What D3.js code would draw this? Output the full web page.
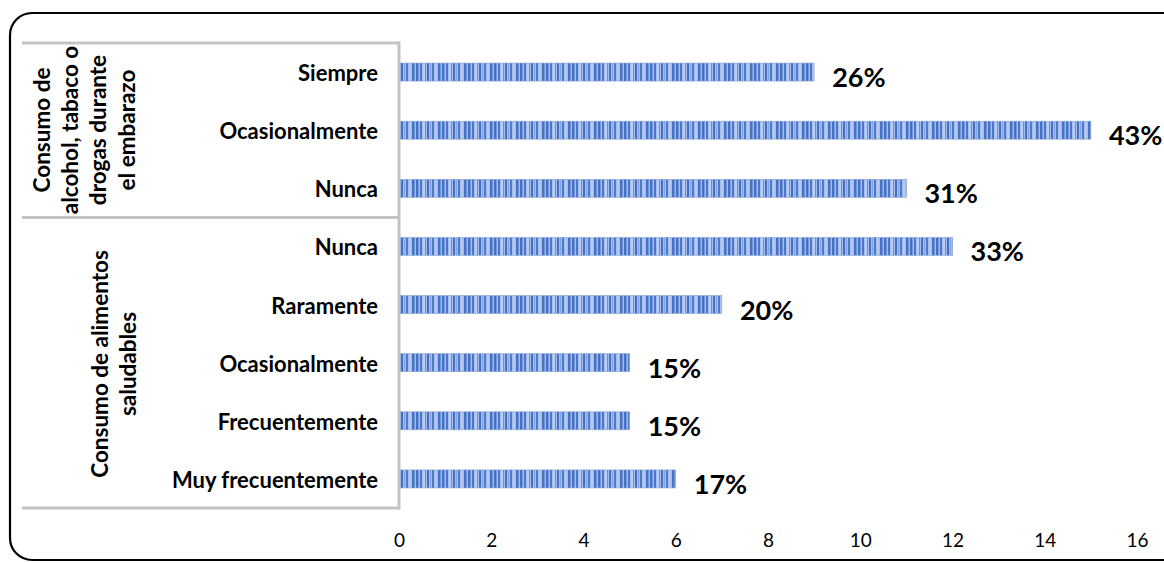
<!DOCTYPE html>
<html>
<head>
<meta charset="utf-8">
<script src="https://cdn.jsdelivr.net/npm/d3@7"></script>
<style>
  body { margin: 0; background: #fff; }
  svg { display: block; font-family: Lato, "Open Sans", sans-serif; }
</style>
</head>
<body>
<svg id="chart" width="1164" height="563"></svg>
<script>
var width = 1164,
    height = 563;

// data, read top to bottom
var categories = ["Siempre", "Ocasionalmente", "Nunca", "Nunca", "Raramente", "Ocasionalmente", "Frecuentemente", "Muy frecuentemente"];
var values = [9, 15, 11, 12, 7, 5, 5, 6];
var percentLabels = ["26%", "43%", "31%", "33%", "20%", "15%", "15%", "17%"];
var groupNames = [
    ["Consumo de", "alcohol, tabaco o", "drogas durante", "el embarazo"],
    ["Consumo de alimentos", "saludables"]
];
var groupSizes = [3, 5];
var xTicks = [0, 2, 4, 6, 8, 10, 12, 14, 16];

var svg = d3.select("#chart");

var plotTop = 43, plotBottom = 508, plotLeft = 399, plotRight = 1137;

var x = d3.scaleLinear().domain([0, 16]).range([plotLeft, plotRight]);
var y = d3.scaleBand()
    .domain(d3.range(categories.length))
    .range([plotTop, plotBottom])
    .paddingInner(0.69)
    .paddingOuter(0.345);

// striped fill like the original
var defs = svg.append("defs");
var pat = defs.append("pattern")
    .attr("id", "stripes")
    .attr("patternUnits", "userSpaceOnUse")
    .attr("width", 26).attr("height", 40);
pat.append("rect").attr("width", 26).attr("height", 40).attr("fill", "#a4bdec");
[[0, 2, "#4471c4"], [2, 1, "#7898d8"], [4, 2, "#4a77c9"], [7, 2, "#b9cdf2"], [9, 1, "#6d8fd4"],
 [11, 2, "#4471c4"], [14, 1, "#86a5df"], [16, 2, "#4e7acb"], [19, 2, "#b4c9f0"], [22, 2, "#4673c6"], [24, 1, "#6f91d5"]]
    .forEach(function(s) {
        pat.append("rect").attr("x", s[0]).attr("width", s[1]).attr("height", 40).attr("fill", s[2]);
    });

// outer frame
svg.append("rect")
    .attr("x", 10).attr("y", 13)
    .attr("width", 1185).attr("height", 547)
    .attr("rx", 22).attr("ry", 22)
    .attr("fill", "none")
    .attr("stroke", "#000")
    .attr("stroke-width", 2.2);

// category table lines
var grey = "#c3c3c3";
var bounds = [plotTop, y(groupSizes[0]) - y.step() * y.paddingInner() / 2, plotBottom];
bounds.forEach(function(yy) {
    svg.append("line")
        .attr("x1", 22).attr("x2", plotLeft + 1)
        .attr("y1", yy).attr("y2", yy)
        .attr("stroke", grey).attr("stroke-width", 3);
});
svg.append("line")
    .attr("x1", plotLeft).attr("x2", plotLeft)
    .attr("y1", plotTop - 1.5).attr("y2", plotBottom + 1.5)
    .attr("stroke", grey).attr("stroke-width", 3);

// bars
svg.selectAll(".bar")
    .data(values)
    .enter().append("rect")
    .attr("class", "bar")
    .attr("x", x(0) + 1.5)
    .attr("y", function(d, i) { return y(i); })
    .attr("width", function(d) { return x(d) - x(0) - 1.5; })
    .attr("height", y.bandwidth())
    .attr("fill", "url(#stripes)")
    .attr("stroke", "#8aa3cf")
    .attr("stroke-width", 0.6);

// value labels
svg.selectAll(".val")
    .data(values)
    .enter().append("text")
    .attr("class", "val")
    .attr("x", function(d) { return x(d) + 18; })
    .attr("y", function(d, i) { return y(i) + y.bandwidth() / 2 + 15; })
    .attr("font-size", 27)
    .attr("font-weight", "bold")
    .attr("fill", "#000")
    .text(function(d, i) { return percentLabels[i]; });

// category labels
svg.selectAll(".cat")
    .data(categories)
    .enter().append("text")
    .attr("class", "cat")
    .attr("x", 378)
    .attr("y", function(d, i) { return y(i) + y.bandwidth() / 2 + 9; })
    .attr("text-anchor", "end")
    .attr("font-size", 22)
    .attr("font-weight", "bold")
    .text(function(d) { return d; });

// group labels, rotated
var groupCenters = [130, 364];
var groupX = [[42, 70, 98, 127], [100, 128]];
groupNames.forEach(function(lines, g) {
    lines.forEach(function(line, j) {
        svg.append("text")
            .attr("transform", "translate(" + (groupX[g][j] + 8) + "," + groupCenters[g] + ") rotate(-90)")
            .attr("text-anchor", "middle")
            .attr("font-size", 22.5)
            .attr("font-weight", "bold")
            .text(line);
    });
});

// x axis labels
var xAxis = d3.axisBottom(x).tickValues(xTicks).tickSize(0).tickPadding(0);
var ax = svg.append("g")
    .attr("transform", "translate(0,529)")
    .call(xAxis);
ax.select(".domain").remove();
ax.selectAll("text")
    .attr("font-family", "Lato, sans-serif")
    .attr("font-size", 19)
    .attr("fill", "#000")
    .attr("dy", "0.95em");
</script>
</body>
</html>
